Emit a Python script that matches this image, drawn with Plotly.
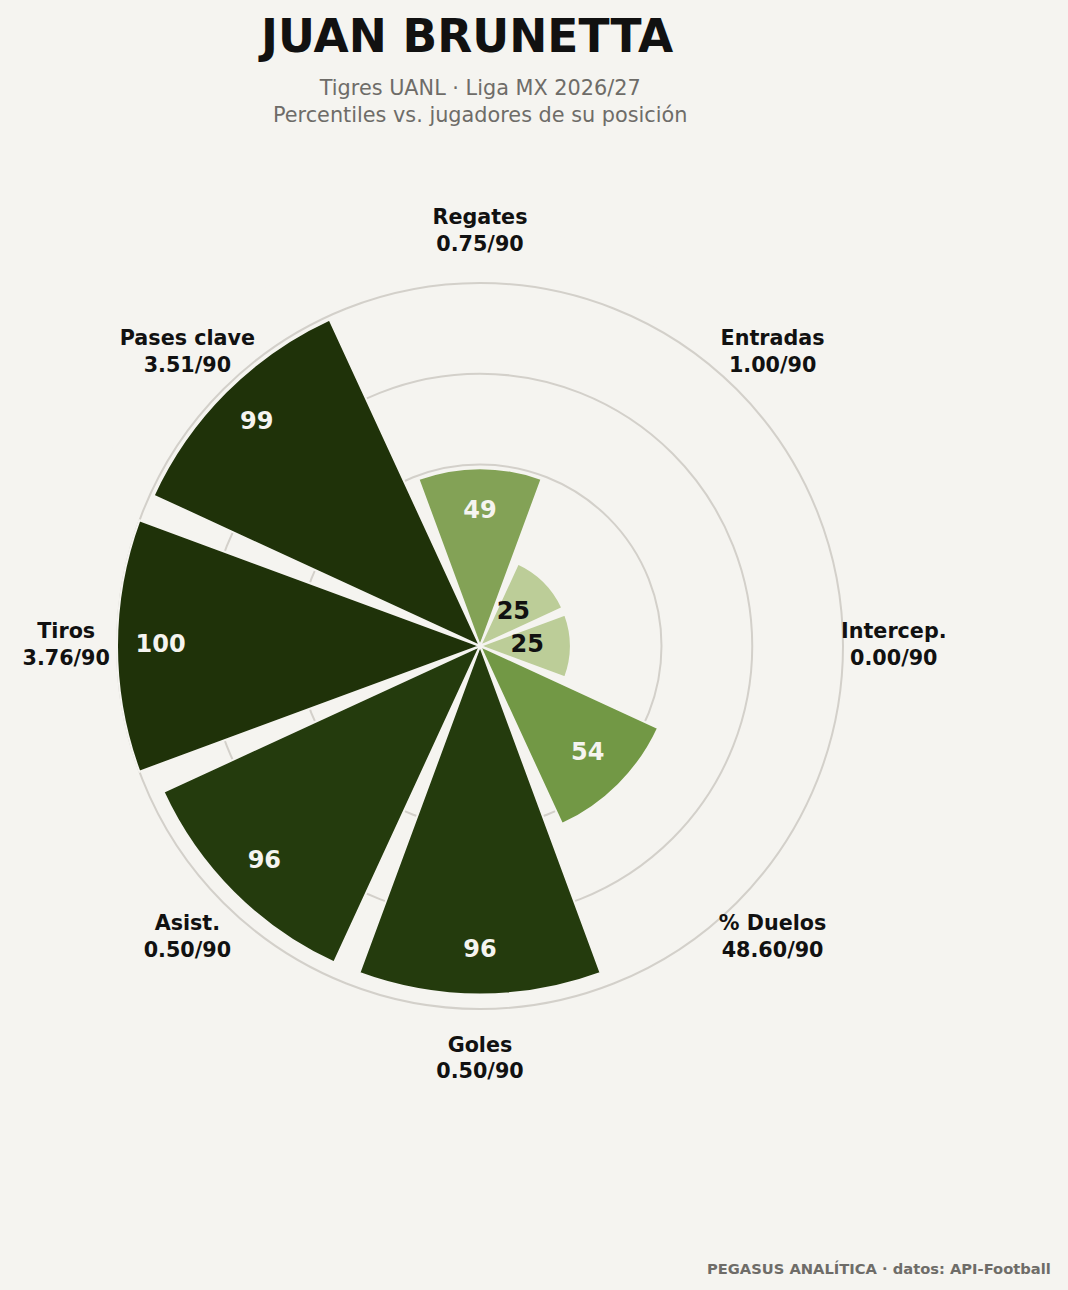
import plotly.graph_objects as go

categories = ["Regates", "Entradas", "Intercep.", "% Duelos", "Goles", "Asist.", "Tiros", "Pases clave"]
per90 = ["0.75", "1.00", "0.00", "48.60", "0.50", "0.50", "3.76", "3.51"]
percentiles = [49, 25, 25, 54, 96, 96, 100, 99]
bar_colors = ["#83a256", "#bccd98", "#bccd98", "#729845", "#243b0d", "#243b0d", "#1f3209", "#1f3209"]
text_colors = ["#f5f4f0", "#111111", "#111111", "#f5f4f0", "#f5f4f0", "#f5f4f0", "#f5f4f0", "#f5f4f0"]

BG = "#f5f4f0"
GRID = "#d3d0ca"

R_MAX = 115
R_PX = 363 * R_MAX / 100
CX, CY = 480, 646
W, H = 1068, 1290

fig = go.Figure()

fig.add_trace(go.Barpolar(
    r=percentiles,
    theta=categories,
    width=[0.9] * len(categories),
    marker=dict(color=bar_colors, line=dict(color=BG, width=2)),
    hoverinfo="skip",
    showlegend=False,
))

fig.add_trace(go.Scatterpolar(
    r=[max(p - 12, 13) for p in percentiles],
    theta=categories,
    mode="text",
    text=[str(p) for p in percentiles],
    textfont=dict(family="DejaVu Sans", size=24, color=text_colors, weight="bold"),
    textposition="middle center",
    hoverinfo="skip",
    showlegend=False,
))

fig.add_trace(go.Scatterpolar(
    r=[114] * len(categories),
    theta=categories,
    mode="text",
    text=[f"<b>{c}</b><br><b>{v}/90</b>" for c, v in zip(categories, per90)],
    textfont=dict(family="DejaVu Sans", size=20.7, color="#111111"),
    textposition="middle center",
    cliponaxis=False,
    hoverinfo="skip",
    showlegend=False,
))

fig.update_layout(
    width=W,
    height=H,
    paper_bgcolor=BG,
    plot_bgcolor=BG,
    margin=dict(l=0, r=0, t=0, b=0),
    font=dict(family="DejaVu Sans"),
    polar=dict(
        bgcolor=BG,
        domain=dict(x=[(CX - R_PX) / W, (CX + R_PX) / W],
                    y=[1 - (CY + R_PX) / H, 1 - (CY - R_PX) / H]),
        hole=0,
        radialaxis=dict(
            range=[0, R_MAX],
            tickvals=[50, 75, 100],
            showticklabels=False,
            ticks="",
            showline=False,
            gridcolor=GRID,
            gridwidth=1.5,
        ),
        angularaxis=dict(
            rotation=90,
            direction="clockwise",
            showticklabels=False,
            ticks="",
            showgrid=False,
            showline=False,
            categoryorder="array",
            categoryarray=categories,
        ),
    ),
    annotations=[
        dict(text="<b>JUAN BRUNETTA</b>", x=465 / W, y=1 - 36 / H, xref="paper", yref="paper",
             showarrow=False, font=dict(size=45.5, color="#111111", family="DejaVu Sans"),
             xanchor="center", yanchor="middle"),
        dict(text="Tigres UANL · Liga MX 2026/27<br>Percentiles vs. jugadores de su posición",
             x=480 / W, y=1 - 101 / H, xref="paper", yref="paper",
             showarrow=False, font=dict(size=20.8, color="#6e6c68", family="DejaVu Sans"),
             xanchor="center", yanchor="middle"),
        dict(text="<b>PEGASUS ANALÍTICA · datos: API-Football</b>", x=1053 / W, y=1 - 1268 / H,
             xref="paper", yref="paper", showarrow=False,
             font=dict(size=14.7, color="#6e6c68", family="DejaVu Sans"),
             xanchor="right", yanchor="middle"),
    ],
)

fig.write_html("out.html", config={"displayModeBar": False},
               post_script="document.body.style.margin='0';")
